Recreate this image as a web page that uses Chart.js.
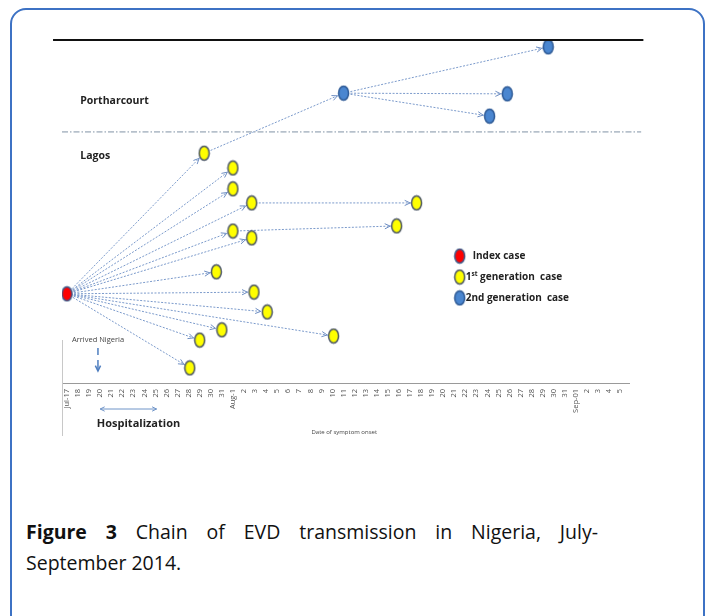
<!DOCTYPE html>
<html>
<head>
<meta charset="utf-8">
<script src="https://cdn.jsdelivr.net/npm/chart.js@4/dist/chart.umd.min.js"></script>
<style>
  body { margin: 0; width: 705px; height: 616px; overflow: hidden; background: #fff; position: relative; }
  #card { position: absolute; left: 10px; top: 8px; width: 691px; height: 620px; border: 2px solid #3d72c4; border-radius: 16px; }
  #wrap { position: absolute; left: 0; top: 0; width: 705px; height: 470px; }
  #caption { position: absolute; left: 26px; top: 516px; width: 572px; font-family: 'Open Sans', sans-serif; font-size: 19.5px; line-height: 31px; color: #111; }
  #caption .l1 { text-align: justify; text-align-last: justify; }
</style>
</head>
<body>
<div id="card"></div>
<div id="wrap"><canvas id="chart" width="705" height="470"></canvas></div>
<div id="caption"><div class="l1"><b>Figure 3</b> Chain of EVD transmission in Nigeria, July-</div><div>September 2014.</div></div>
<script>
'use strict';
// x = days since Jul-17, y = vertical level (arbitrary, 0 = axis, 100 = top rule)
var tickLabels = ['Jul-17', '18', '19', '20', '21', '22', '23', '24', '25', '26', '27', '28', '29', '30', '31',
  'Aug-1', '2', '3', '4', '5', '6', '7', '8', '9', '10', '11', '12', '13', '14', '15', '16', '17', '18', '19', '20',
  '21', '22', '23', '24', '25', '26', '27', '28', '29', '30', '31',
  'Sep-01', '2', '3', '4', '5'];

var indexDay = [0];
var indexLevel = [26];
var firstDay = [12.4, 15, 15, 16.7, 31.6, 15, 29.8, 16.7, 13.5, 16.9, 18.1, 14, 12, 24.1, 11.1];
var firstLevel = [67, 62.7, 56.6, 52.5, 52.5, 44.3, 45.8, 42.3, 32.4, 26.5, 20.7, 15.5, 12.5, 13.7, 4.4];
var secondDay = [25, 43.5, 39.8, 38.2];
var secondLevel = [84.5, 98, 84.3, 77.8];

// transmission links: I = index case, F = 1st generation, S = 2nd generation
var linkFrom = ['I0', 'I0', 'I0', 'I0', 'I0', 'I0', 'I0', 'I0', 'I0', 'I0', 'I0', 'I0', 'I0', 'F3', 'F5', 'F0', 'S0', 'S0', 'S0'];
var linkTo = ['F0', 'F1', 'F2', 'F3', 'F5', 'F7', 'F8', 'F9', 'F10', 'F11', 'F12', 'F13', 'F14', 'F4', 'F6', 'S0', 'S1', 'S2', 'S3'];

var regionNames = ['Portharcourt', 'Lagos'];
var regionDay = [1.2, 1.2];
var regionLevel = [82.2, 66.2];
var regionBorderLevel = 73.2;

var legendLabels = ['Index case', '1st generation  case', '2nd generation  case'];
var legendLevel = [37, 30.9, 24.8];

var dotFill = ['#ff0000', '#ffff00', '#4a86d0'];
var dotStroke = ['#3b5a8a', '#4a5566', '#2e5a96'];

function makeDot(fill, stroke){
  var c = document.createElement('canvas');
  c.width = 13;
  c.height = 17;
  var g = c.getContext('2d');
  g.beginPath();
  g.ellipse(6.5, 8.5, 5, 7, 0, 0, 2 * Math.PI);
  g.fillStyle = fill;
  g.fill();
  g.lineWidth = 1.5;
  g.strokeStyle = stroke;
  g.stroke();
  return c;
}
var dots = [];
for (var i = 0; i < dotFill.length; i++){
  dots.push(makeDot(dotFill[i], dotStroke[i]));
}

function points(days, levels){
  var out = [];
  for (var i = 0; i < days.length; i++){
    out.push({x: days[i], y: levels[i]});
  }
  return out;
}
var casePoints = {};
function register(prefix, days, levels){
  for (var i = 0; i < days.length; i++){
    casePoints[prefix + i] = {x: days[i], y: levels[i]};
  }
}
register('I', indexDay, indexLevel);
register('F', firstDay, firstLevel);
register('S', secondDay, secondLevel);

var datasets = [
  {label: 'Index case', data: points(indexDay, indexLevel), pointStyle: dots[0], pointRadius: 6},
  {label: '1st generation case', data: points(firstDay, firstLevel), pointStyle: dots[1], pointRadius: 6},
  {label: '2nd generation case', data: points(secondDay, secondLevel), pointStyle: dots[2], pointRadius: 6}
];
for (var k = 0; k < linkFrom.length; k++){
  datasets.push({
    label: 'link',
    isLink: true,
    data: [casePoints[linkFrom[k]], casePoints[linkTo[k]]],
    showLine: true,
    pointRadius: 0,
    borderColor: '#7b9acb',
    borderWidth: 1,
    borderDash: [2, 1.5]
  });
}

function openHead(ctx, x, y, ang, len){
  ctx.beginPath();
  ctx.moveTo(x - len * Math.cos(ang - 0.45), y - len * Math.sin(ang - 0.45));
  ctx.lineTo(x, y);
  ctx.lineTo(x - len * Math.cos(ang + 0.45), y - len * Math.sin(ang + 0.45));
  ctx.stroke();
}

var overlay = {
  id: 'overlay',
  beforeDatasetsDraw: function(chart){
    var ctx = chart.ctx;
    ctx.save();
    ctx.strokeStyle = '#6d8dc2';
    ctx.lineWidth = 1;
    chart.data.datasets.forEach(function(ds, idx){
      if (!ds.isLink) return;
      var pts = chart.getDatasetMeta(idx).data;
      var a = pts[0], b = pts[1];
      var ang = Math.atan2(b.y - a.y, b.x - a.x);
      var r = 1 / Math.sqrt(Math.pow(Math.cos(ang) / 5.5, 2) + Math.pow(Math.sin(ang) / 7.5, 2)) + 1;
      openHead(ctx, b.x - r * Math.cos(ang), b.y - r * Math.sin(ang), ang, 6);
    });
    ctx.restore();
  },
  afterDraw: function(chart){
    var ctx = chart.ctx;
    var xs = chart.scales.x, ys = chart.scales.y;
    function px(d){ return xs.getPixelForValue(d); }
    function py(l){ return ys.getPixelForValue(l); }
    ctx.save();

    // top rule
    ctx.strokeStyle = '#111';
    ctx.lineWidth = 2;
    ctx.beginPath();
    ctx.moveTo(px(-1.26), py(100));
    ctx.lineTo(px(52.1), py(100));
    ctx.stroke();

    // region border (dash-dot)
    ctx.strokeStyle = '#8193a6';
    ctx.lineWidth = 1;
    ctx.setLineDash([6, 2, 1.5, 2]);
    ctx.beginPath();
    ctx.moveTo(px(-0.45), py(regionBorderLevel));
    ctx.lineTo(px(51.9), py(regionBorderLevel));
    ctx.stroke();
    ctx.setLineDash([]);

    // region names
    ctx.fillStyle = '#222';
    ctx.font = 'bold 10.5px "Open Sans"';
    ctx.textBaseline = 'middle';
    for (var i = 0; i < regionNames.length; i++){
      ctx.fillText(regionNames[i], px(regionDay[i]), py(regionLevel[i]));
    }

    // legend
    var lx = px(35.5);
    for (var j = 0; j < legendLabels.length; j++){
      var ly = py(legendLevel[j]);
      ctx.drawImage(dots[j], lx - 6.5, ly - 8.5);
      ctx.font = 'bold 10px "Open Sans"';
      ctx.fillStyle = '#222';
      if (j === 1){
        var tx = lx + 6;
        ctx.fillText('1', tx, ly);
        tx += ctx.measureText('1').width;
        ctx.font = 'bold 6.5px "Open Sans"';
        ctx.fillText('st', tx, ly - 3);
        tx += ctx.measureText('st').width;
        ctx.font = 'bold 10px "Open Sans"';
        ctx.fillText(' generation  case', tx, ly);
      } else {
        ctx.fillText(legendLabels[j], lx + (j === 0 ? 13 : 6), ly);
      }
    }

    // arrived Nigeria
    ctx.font = '7.5px "Open Sans"';
    ctx.fillStyle = '#444';
    ctx.fillText('Arrived Nigeria', px(0.45), py(12.5));
    ctx.strokeStyle = '#4f7fc0';
    ctx.lineWidth = 1.5;
    var ax = px(2.8);
    ctx.beginPath();
    ctx.moveTo(ax, 348); ctx.lineTo(ax, 355);
    ctx.moveTo(ax, 360); ctx.lineTo(ax, 371);
    ctx.stroke();
    openHead(ctx, ax, 371, Math.PI / 2, 6);

    // left faint axis stub
    ctx.strokeStyle = '#c8c8c8';
    ctx.lineWidth = 1;
    ctx.beginPath();
    ctx.moveTo(xs.left + 0.5, 340);
    ctx.lineTo(xs.left + 0.5, 436);
    ctx.stroke();

    // hospitalization
    var h1 = px(3), h2 = px(8.1), hy = 409;
    ctx.strokeStyle = '#6f94c8';
    ctx.lineWidth = 1;
    ctx.beginPath();
    ctx.moveTo(h1, hy); ctx.lineTo(h2, hy);
    ctx.stroke();
    openHead(ctx, h2, hy, 0, 5);
    openHead(ctx, h1, hy, Math.PI, 5);
    ctx.fillStyle = '#222';
    ctx.font = 'bold 11px "Open Sans"';
    ctx.fillText('Hospitalization', px(2.7), 424);

    // axis title
    ctx.fillStyle = '#444';
    ctx.font = '6px "Open Sans"';
    ctx.fillText('Date of symptom onset', px(22.1), 432);

    ctx.restore();
  }
};

var chart = new Chart(document.getElementById('chart'), {
  type: 'scatter',
  data: {datasets: datasets},
  options: {
    responsive: false,
    animation: false,
    events: [],
    layout: {padding: {left: 62, right: 76, top: 40, bottom: 0}},
    plugins: {legend: {display: false}, tooltip: {enabled: false}},
    scales: {
      x: {
        type: 'linear',
        min: -0.45,
        max: 50.8,
        afterBuildTicks: function(scale){
          scale.ticks = tickLabels.map(function(l, i){ return {value: i}; });
        },
        afterFit: function(scale){ scale.height = 87; },
        grid: {display: false, drawTicks: false},
        border: {display: true, color: '#9a9a9a', dash: [2, 1], width: 1},
        ticks: {
          autoSkip: false,
          minRotation: 90,
          maxRotation: 90,
          padding: 6,
          color: '#555',
          font: {family: 'Open Sans', size: 7.5},
          callback: function(v){ return tickLabels[v]; }
        }
      },
      y: {display: false, min: 0, max: 100}
    }
  },
  plugins: [overlay]
});
</script>
</body>
</html>
